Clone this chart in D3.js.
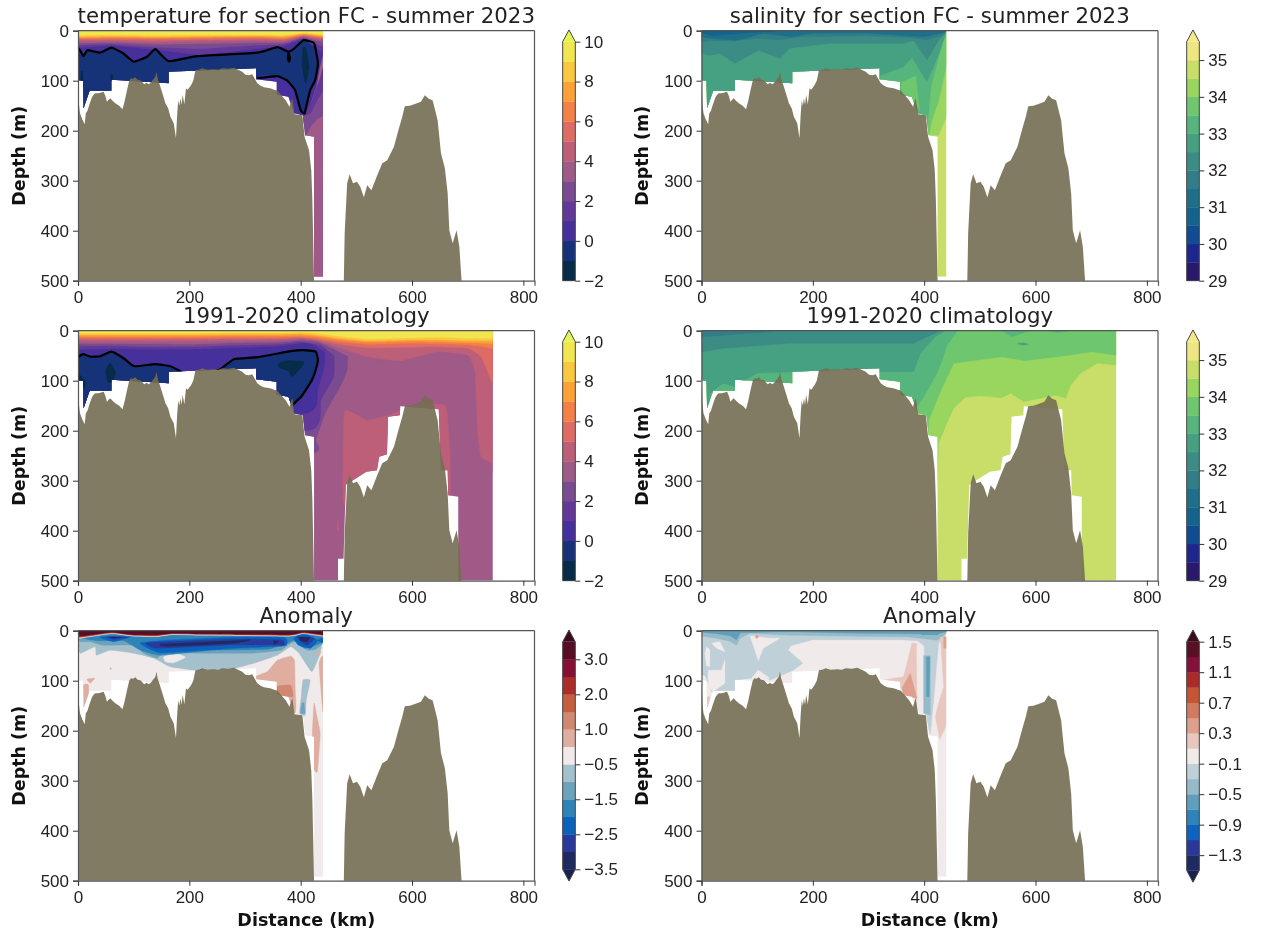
<!DOCTYPE html>
<html><head><meta charset="utf-8">
<script src="https://cdn.jsdelivr.net/npm/d3@7"></script>
<style>
html,body{margin:0;padding:0;background:#fff}
svg{display:block;font-family:"DejaVu Sans";filter:blur(0.45px)}
.tick text{font-size:17px;fill:#222}
</style></head><body>
<svg id="fig" width="1263" height="934"></svg>
<script>
// ---------- bathymetry (km, m) ----------
const shelf=[[0,99],[1,125],[2,150],[3.6,165],[8,178],[12,187],[14,165],[17,160],[20,149],[25,133],[28,128],[31,125],[36,125],[40,124],[46,122],[49,130],[52,142],[55,138],[58,135],[62,140],[67,145],[74,150],[80,157],[84,140],[88,119],[92,100],[95,95],[99,96],[103,93],[107,98],[112,99],[119,107],[123,104],[127,107],[131,104],[134,99],[139,92],[141,82],[143,95],[148,112],[153,130],[157,145],[162,155],[166,172],[172,185],[174,200],[176,215],[178,170],[180,139],[182,150],[184,135],[186,148],[188,128],[191,147],[194,115],[197,118],[203,109],[207,100],[211,79],[217,78],[223,75],[232,78],[244,77],[252,78],[259,75],[270,76],[280,74],[295,82],[301,88],[307,89],[313,87],[322,105],[328,110],[334,113],[345,115],[358,120],[366,130],[373,139],[380,152],[383,140],[385,135],[389,167],[403,169],[407,212],[415,239],[419,279],[421,339],[424,500]];
const ridge=[[477.5,500],[479,405],[483.5,305],[488,287],[494,305],[501,302],[507,312],[513.5,333],[519.5,309],[527,319],[537.5,289],[546.5,265],[555.5,259],[567.5,232],[576.5,195],[582.5,172],[587,151],[596,150],[604,147],[616,142],[623,129],[630,136],[637,139],[646,179],[652,245],[659,275],[664,325],[667,399],[673,425],[680,399],[685,432],[689,500]];

// ---------- data coverage outlines (km, m) ----------
const shelfEdge=[[0,0],[0,99],[9,100],[10,155],[21,120],[60,120],[60,98],[163,105],[163,82],[320,75],[320,97],[357,102],[357,128],[378,132],[388,165],[404,169],[408,209],[424,212]];
const summerEnd=[[424,492],[440,492],[440,0]];
const climEnd=[[424,500],[467,500],[467,456],[477,456],[481,308],[518,282],[537,279],[541,252],[555,247],[557,172],[578,169],[579,151],[648,157],[652,279],[664,279],[665,329],[683,332],[683,500],[745,500],[745,0]];

// ---------- colour levels ----------
const tempLevels=[-2,-1,0,1,2,3,4,5,6,7,8,9,10];
const tempColors=["#062c48","#163278","#46309b","#623898","#7a4b91","#a05a88","#bd5f78","#de6c64","#f58046","#fda037","#fac83e","#f0e650"];
const tempOver="#e4f552";
const salLevels=[29,29.5,30,30.5,31,31.5,32,32.5,33,33.5,34,34.5,35,35.5];
const salColors=["#29186b","#1c268c","#104c92","#12648c","#1e708a","#327d87","#3a8c85","#46a082","#56b47d","#6ec66e","#98d65f","#c8de69","#eee682"];
const salOver="#f5e88a";
const tAnomLevels=[-3.5,-3,-2.5,-2,-1.5,-1,-0.5,0.5,1,1.5,2,2.5,3,3.5];
const tAnomColors=["#1f2a60","#2a3a9c","#0b62bd","#2e83b7","#6ba3bd","#a4c0cc","#f0eaea","#dfaea0","#d08870","#c55e3e","#ac2e28","#850f35","#570e25"];
const sAnomLevels=[-1.5,-1.3,-1.1,-0.9,-0.7,-0.5,-0.3,-0.1,0.1,0.3,0.5,0.7,0.9,1.1,1.3,1.5];
const sAnomColors=["#1e2a62","#2b389a","#0d63bf","#2e83ba","#5f9fbb","#95bac8","#c0d0d8","#f0eaea","#e8c8be","#de9f8c","#d07a5f","#c45535","#ab2a2a","#85103a","#5a0f25"];
const anomOver="#3a0a1f", anomUnder="#1a2050";

// ---------- tick labels ----------
const xTicks=[0,200,400,600,800];
const yTicks=[0,100,200,300,400,500];
const tempTicks=[-2,0,2,4,6,8,10];
const salTicks=[29,30,31,32,33,34,35];
const tAnomTicks=[-3.5,-2.5,-1.5,-0.5,1,2,3];
const sAnomTicks=[-1.3,-0.9,-0.5,-0.1,0.3,0.7,1.1,1.5];

// ---------- temperature, summer 2023: stacked bands, deepest first ----------
const tsX=[0,60,140,220,320,370,405,440];
const tempSummerMarks=[
 ["p",0.5,[[0,0],[440,0],[440,45],[435,70],[428,110],[418,145],[408,170],[380,260],[0,260]]],
 ["p",3.5,[[440,150],[440,500],[424,500],[424,225],[407,212],[417,195],[430,178]]],
 ["p",2.5,[[440,118],[440,168],[430,176],[417,193],[407,212],[404,170],[417,165],[430,138]]],
 ["p",1.5,[[440,75],[440,118],[430,138],[417,165],[404,170],[410,165],[420,142],[428,115],[435,95]]],
 ["p",-0.5,[[0,34],[5,42],[10,51],[17,39],[40,44],[60,34],[81,45],[100,62],[124,52],[139,37],[163,61],[214,51],[322,44],[358,33],[378,42],[387,37],[405,19],[424,25],[431,65],[426,99],[417,119],[407,165],[400,159],[390,119],[375,99],[358,91],[322,95],[320,260],[0,260]]],
 ["p",-1.5,[[404,35],[409,35],[415,72],[409,105],[403,72]]],
 ["p",-1.5,[[6,82],[8,82],[9,100],[5,100]]],
 ["p",-1.5,[[59,88],[62,88],[62,100],[59,100]]],
 ["a",1.5,tsX,[34,30,38,48,36,31,17,45]],
 ["a",2.5,tsX,[29,27,33,36,29,27,15,32]],
 ["a",3.5,tsX,[25,24,27,26,24,24,13,23]],
 ["a",4.5,tsX,[21,21,23,21,20,21,12,19]],
 ["a",5.5,tsX,[18,18,19,18,17,18,10,16]],
 ["a",6.5,tsX,[16,15,16,15,14,16,9,14]],
 ["a",7.5,tsX,[14,13,14,13,12,14,7,12]],
 ["a",8.5,tsX,[12,11,12,11,10,11,6,10]],
 ["a",9.5,tsX,[9,8,9,8,8,9,4,8]]
];
const tempSummerContours=[
 [[0,34],[5,42],[10,51],[17,39],[40,44],[60,34],[81,45],[100,62],[124,52],[139,37],[163,61],[214,51],[322,44],[358,33],[378,42],[387,37],[405,19],[424,25],[431,65],[426,99],[417,119],[407,165],[400,159],[390,119],[375,99],[358,91],[322,95]],
 [[378,45],[381,55],[379,62],[377,55],[378,45]],
 [[10,151],[11,155]]
];

// ---------- temperature, 1991-2020 ----------
const tcX=[0,60,120,200,280,360,400,430,470,520,600,640,700,730,745];
const tempClimMarks=[
 ["p",4.5,[[479,162],[519,179],[560,168],[600,150],[660,150],[668,240],[669,322],[660,340],[520,340],[477,345]]],
 ["p",4.5,[[466,380],[468,380],[468,400],[466,400]]],
 ["p",2.5,[[0,0],[459,0],[484,72],[474,105],[444,165],[427,219],[418,245],[0,272]]],
 ["p",1.5,[[0,0],[436,0],[459,49],[459,92],[436,139],[415,199],[0,199]]],
 ["p",0.5,[[0,0],[418,0],[442,42],[442,72],[430,119],[409,165],[0,200]]],
 ["p",-0.5,[[0,52],[10,47],[22,52],[40,51],[60,42],[82,55],[101,71],[139,67],[166,71],[188,84],[188,200],[0,200]]],
 ["p",-0.5,[[244,81],[256,77],[280,57],[322,53],[382,41],[406,39],[427,42],[431,59],[426,82],[420,99],[403,129],[382,152],[320,152],[244,110]]],
 ["p",-1.5,[[360,66],[375,60],[405,62],[403,70],[385,92],[378,80],[362,74]]],
 ["p",-1.5,[[58,65],[67,82],[62,102],[54,102],[50,80]]],
 ["p",-1.5,[[3,89],[12,100],[12,115],[3,105]]],
 ["a",1.5,[0,60,120,200,280,360,400,418,442],[38,36,37,37,34,31,25,25,42]],
 ["a",2.5,[0,60,120,200,280,360,400,436,459],[31,30,32,32,29,27,22,29,49]],
 ["a",3.5,[0,60,120,200,280,360,400,430,459,484,540,580,640,700,745],[26,26,26,27,24,23,19,22,36,50,60,62,48,52,60]],
 ["a",4.5,[0,60,120,200,280,360,400,430,470,520,580,645,700,713,718,724,742,745],[21,21,21,21,20,19,16,20,34,52,60,42,49,82,205,252,265,285]],
 ["a",5.5,[0,60,120,200,280,360,400,430,470,520,600,640,700,724,742,745],[17,17,17,17,16,16,14,18,27,34,33,32,35,52,99,105]],
 ["a",6.5,tcX,[14,14,14,14,13,13,12,15,22,27,25,26,28,32,36]],
 ["a",7.5,tcX,[11,11,11,11,10,10,9,12,18,23,21,22,24,25,27]],
 ["a",8.5,tcX,[8,8,8,8,7,7,6,9,15,20,18,18,20,20,21]],
 ["a",9.5,tcX,[5,5,5,5,4,4,3,5,11,16,14,13,15,15,15]]
];
const tempClimContours=[
 [[0,52],[4,50],[10,47],[22,52],[40,51],[60,42],[82,55],[101,71],[139,67],[166,71],[188,84]],
 [[244,81],[256,77],[280,57],[322,53],[382,41],[406,39],[427,42],[431,59],[426,82],[420,99],[403,129],[382,152]]
];

// ---------- temperature anomaly ----------
const taX=[0,10,60,100,140,170,220,300,380,405,440];
const tAnomMarks=[
 ["p",-0.75,[[0,0],[440,0],[440,12],[435,45],[420,82],[397,45],[382,32],[358,49],[316,65],[280,75],[220,80],[166,72],[136,55],[100,45],[58,39],[33,49],[31,32],[4,45],[0,25]]],
 ["p",0,[[154,52],[175,45],[193,53],[172,64],[157,62]]],
 ["p",-1.25,[[0,12],[4,22],[22,22],[46,29],[100,29],[118,45],[142,55],[154,45],[220,45],[310,45],[364,39],[382,25],[394,22],[412,39],[427,37],[440,25],[440,0],[0,0]]],
 ["p",-1.75,[[10,15],[34,20],[82,20],[112,39],[148,49],[244,39],[340,37],[376,25],[388,19],[406,35],[427,29],[440,22],[440,0],[10,0]]],
 ["p",-2.25,[[40,13],[94,12],[64,22]]],
 ["p",-2.25,[[112,25],[160,19],[280,13],[370,13],[372,30],[280,35],[148,44]]],
 ["p",-2.25,[[388,15],[406,5],[430,19],[418,35],[396,29]]],
 ["p",-2.25,[[430,19],[440,15],[440,24]]],
 ["p",-2.75,[[52,12],[88,13],[64,17]]],
 ["p",-2.75,[[125,24],[280,17],[365,18],[368,29],[280,28],[142,35]]],
 ["p",-2.75,[[394,12],[424,15],[412,29],[400,22]]],
 ["p",-3.25,[[58,13],[76,13],[64,15]]],
 ["p",-3.25,[[150,27],[280,20],[310,18],[280,25],[160,31]]],
 ["p",-3.25,[[352,20],[361,22],[352,27]]],
 ["p",-3.25,[[398,13],[416,13],[412,22],[400,20]]],
 ["p",0.75,[[382,51],[389,60],[390,112],[389,165],[315,97],[340,82],[358,59]]],
 ["p",1.25,[[358,111],[382,109],[386,132],[359,129]]],
 ["p",0.75,[[10,109],[19,109],[19,152],[10,157]]],
 ["p",0.75,[[16,97],[30,95],[22,105]]],
 ["p",0.75,[[58,74],[61,75],[58,78]]],
 ["p",0.75,[[440,52],[433,65],[436,112],[440,162]]],
 ["p",0.75,[[427,45],[436,42],[433,49]]],
 ["p",0.75,[[424,145],[428,165],[435,205],[430,282],[422,272],[421,205]]],
 ["p",-0.75,[[404,99],[417,99],[410,139],[408,169],[398,165],[401,132]]],
 ["p",-1.25,[[402,145],[406,145],[408,165],[400,165]]],
 ["a",0,taX,[16,14,6,11,12,8,9,10,11,6,11]],
 ["a",0.75,taX,[15,13,5,10,11,7,8,9,10,5,10]],
 ["a",2.25,taX,[13,12,4,9,10,6,7,8,9,4,9]],
 ["a",3.25,taX,[10,10,3,8,8,5,6,7,8,3,8]]
];

// ---------- salinity, summer 2023 ----------
const salSummerMarks=[
 ["p",34.25,[[0,0],[441,0],[441,169],[426,209],[0,215]]],
 ["p",33.75,[[0,0],[441,0],[441,65],[426,139],[414,179],[408,209],[0,215]]],
 ["p",33.25,[[0,0],[438,0],[423,65],[412,112],[408,165],[404,215],[0,215]]],
 ["p",33.75,[[359,103],[385,90],[392,160],[378,135],[359,129]]],
 ["a",32.75,[0,318,321,363,378,405,425,438],[300,300,89,72,53,102,50,9]],
 ["a",32.25,[0,15,33,60,102,141,159,231,363,381,405,426,438],[45,49,45,65,39,55,35,25,25,19,58,19,5]],
 ["a",31.75,[0,15,60,100,140,180,300,380,405,430,438],[22,20,20,15,18,12,10,14,18,10,3]],
 ["a",31.25,[0,15,60,80,110,160,200,300,400,430,438],[12,15,19,15,5,12,5,5,12,5,2]],
 ["a",30.75,[0,20,40,60,100,130],[4,10,8,6,3,1]]
];

// ---------- salinity, 1991-2020 ----------
const salClimMarks=[
 ["a",34.25,[0,420,423,426,438,453,474,501,540,555,579,636,654,663,681,711,747],[300,300,312,225,192,155,133,130,134,125,142,129,135,109,85,65,69]],
 ["a",33.75,[0,405,408,429,453,540,580,660,700,747],[300,300,179,122,65,52,60,49,42,49]],
 ["a",33.25,[0,387,399,423,432,441,459],[300,152,132,85,59,29,1]],
 ["a",32.75,[0,15,39,60,99,159,381,393,420,435],[300,125,105,112,85,82,82,45,12,2]],
 ["a",32.25,[0,39,159,381,393,426],[42,35,25,25,18,2]],
 ["a",31.75,[0,30,60,110,130],[12,10,7,3,0]],
 ["p",33.25,[[540,0],[558,12],[580,3],[590,0]]],
 ["p",33.25,[[620,0],[640,4],[660,0]]],
 ["p",32.75,[[567,26],[578,24],[588,27],[578,29]]]
];

// ---------- salinity anomaly ----------
const sAnomMarks=[
 ["p",-0.2,[[0,0],[441,0],[438,8],[426,25],[423,60],[417,140],[411,207],[402,165],[400,30],[388,20],[357,18],[220,18],[200,18],[160,30],[156,39],[182,65],[165,79],[123,99],[102,79],[90,95],[60,99],[60,122],[18,122],[6,89],[0,89]]],
 ["p",0,[[9,32],[15,38],[15,72],[9,70],[6,46]]],
 ["p",0,[[18,25],[33,22],[42,42],[27,35]]],
 ["p",0,[[12,79],[36,79],[42,58],[42,105],[21,122],[12,112]]],
 ["p",0,[[87,10],[123,15],[141,15],[111,35],[102,60],[93,29]]],
 ["p",0,[[90,95],[102,79],[123,95]]],
 ["a",-0.4,[0,27,51,63,69,87,159,279,369,423,441],[11,15,21,29,15,5,9,11,12,19,5]],
 ["a",-0.6,[0,27,51,63,70,159,279,369,423,441],[3,6,10,18,4,2,5,6,7,2]],
 ["p",-0.6,[[395,8],[425,8],[425,3],[395,3]]],
 ["p",-0.4,[[399,50],[411,50],[411,168],[399,165]]],
 ["p",-0.6,[[404,52],[410,52],[409,132],[404,132]]],
 ["p",0.2,[[324,99],[363,92],[378,25],[386,25],[387,139],[360,115]]],
 ["p",0.4,[[360,115],[375,85],[387,135],[363,129]]],
 ["p",0.2,[[429,13],[442,12],[442,185],[428,217],[420,172],[426,145],[435,112],[431,45]]],
 ["p",0.4,[[435,12],[442,12],[441,35],[435,35]]],
 ["p",0.2,[[9,132],[15,132],[14,157],[9,157]]],
 ["p",0.4,[[98,8],[103,12],[100,15],[97,14]]]
];

// ---------- layout ----------
const W=456.5,H=250;
const panels=[
 {x:78,y:30.7,title:"temperature for section FC - summer 2023",levels:tempLevels,colors:tempColors,marks:tempSummerMarks,lines:tempSummerContours,end:summerEnd,base:3.5,smooth:true},
 {x:701.5,y:30.7,title:"salinity for section FC - summer 2023",levels:salLevels,colors:salColors,marks:salSummerMarks,lines:[],end:summerEnd,base:34.75},
 {x:78,y:330.7,title:"1991-2020 climatology",levels:tempLevels,colors:tempColors,marks:tempClimMarks,lines:tempClimContours,end:climEnd,base:3.5,smooth:true},
 {x:701.5,y:330.7,title:"1991-2020 climatology",levels:salLevels,colors:salColors,marks:salClimMarks,lines:[],end:climEnd,base:34.75},
 {x:78,y:630.7,title:"Anomaly",levels:tAnomLevels,colors:tAnomColors,marks:tAnomMarks,lines:[],end:summerEnd,base:0,xlabel:true,smooth:true},
 {x:701.5,y:630.7,title:"Anomaly",levels:sAnomLevels,colors:sAnomColors,marks:sAnomMarks,lines:[],end:summerEnd,base:0,xlabel:true}
];
const svg=d3.select("#fig");
const xs=d3.scaleLinear().domain([0,820]).range([0,W]);
const ys=d3.scaleLinear().domain([0,500]).range([0,H]);
const line=d3.line().x(d=>xs(d[0])).y(d=>ys(d[1]));
const closed=pts=>line(pts)+"Z";
const lineOpen=d3.line().x(d=>xs(d[0])).y(d=>ys(d[1])).curve(d3.curveCardinal.tension(0.6));
const lineClosed=d3.line().x(d=>xs(d[0])).y(d=>ys(d[1])).curve(d3.curveCardinalClosed.tension(0.6));
const topDown=(sx,sd,smooth)=>{
 const pts=sx.map((x,i)=>[x,sd[i]]);
 const body=(smooth?lineOpen:line)(pts).slice(1);
 return `M${xs(sx[0])},0L${body}L${xs(sx[sx.length-1])},0Z`;
};

panels.forEach((p,pi)=>{
 const g=svg.append("g").attr("transform",`translate(${p.x},${p.y})`);
 const color=d3.scaleThreshold().domain(p.levels.slice(1,-1)).range(p.colors);
 const cid="cov"+pi;
 g.append("clipPath").attr("id",cid).append("path").attr("d",closed([...shelfEdge,...p.end]));
 const data=g.append("g").attr("clip-path",`url(#${cid})`);
 data.append("rect").attr("width",W).attr("height",H).attr("fill",color(p.base));
 data.selectAll("path.band").data(p.marks).join("path").attr("class","band")
  .attr("d",m=>m[0]==="a"?topDown(m[2],m[3],p.smooth):(p.smooth?lineClosed(m[2]):closed(m[2])))
  .attr("fill",m=>color(m[1])).attr("stroke",m=>color(m[1])).attr("stroke-width",0.4);
 data.selectAll("path.ctr").data(p.lines).join("path").attr("class","ctr")
  .attr("d",l=>lineOpen(l)).attr("fill","none").attr("stroke","#000").attr("stroke-width",2.2).attr("stroke-linejoin","round");
 [shelf,ridge].forEach(b=>g.append("path").attr("d",d3.area().x(d=>xs(d[0])).y1(d=>ys(d[1])).y0(H)([[b[0][0],500],...b,[b[b.length-1][0],500]]))
  .attr("fill","#746d53").attr("fill-opacity",0.9));
 const ax=g.append("g").attr("transform",`translate(0,${H})`).call(d3.axisBottom(xs).tickValues(xTicks).tickFormat(d3.format("d")).tickSize(5).tickPadding(5));
 const ay=g.append("g").call(d3.axisLeft(ys).tickValues(yTicks).tickFormat(d3.format("d")).tickSize(5).tickPadding(4));
 [ax,ay].forEach(a=>{a.selectAll("line").attr("stroke","#333").attr("stroke-width",1);a.select(".domain").attr("stroke","#555").attr("stroke-width",1.2)});
 g.append("line").attr("x1",0).attr("x2",W).attr("y1",0).attr("y2",0).attr("stroke","#555").attr("stroke-width",1.2);
 g.append("line").attr("x1",W).attr("x2",W).attr("y1",0).attr("y2",H).attr("stroke","#555").attr("stroke-width",1.2);
 g.append("text").attr("x",W/2).attr("y",-8).attr("text-anchor","middle").attr("font-size",21.3).attr("fill","#222").text(p.title);
 g.append("text").attr("transform",`translate(-53.5,${H/2}) rotate(-90)`).attr("text-anchor","middle").attr("font-size",17.5).attr("font-weight","bold").attr("fill","#111").text("Depth (m)");
 if(p.xlabel) g.append("text").attr("x",W/2).attr("y",H+45.5).attr("text-anchor","middle").attr("font-size",17.5).attr("font-weight","bold").attr("fill","#111").text("Distance (km)");
});

// ---------- colour bars ----------
const bars=[
 {x:562.7,top:41.7,bot:280.7,levels:tempLevels,colors:tempColors,ticks:tempTicks,over:tempOver,fmt:d3.format("d"),uniform:false},
 {x:1186.7,top:41.7,bot:280.7,levels:salLevels,colors:salColors,ticks:salTicks,over:salOver,fmt:d3.format("d"),uniform:false},
 {x:562.7,top:341.7,bot:580.7,levels:tempLevels,colors:tempColors,ticks:tempTicks,over:tempOver,fmt:d3.format("d"),uniform:false},
 {x:1186.7,top:341.7,bot:580.7,levels:salLevels,colors:salColors,ticks:salTicks,over:salOver,fmt:d3.format("d"),uniform:false},
 {x:562.7,top:641.8,bot:869.3,levels:tAnomLevels,colors:tAnomColors,ticks:tAnomTicks,over:anomOver,under:anomUnder,fmt:d3.format(".1f"),uniform:true},
 {x:1186.7,top:641.7,bot:870.4,levels:sAnomLevels,colors:sAnomColors,ticks:sAnomTicks,over:anomOver,under:anomUnder,fmt:d3.format(".1f"),uniform:true}
];
bars.forEach(b=>{
 const g=svg.append("g").attr("transform",`translate(${b.x},0)`);
 const bw=12.6, tip=11.8;
 const n=b.levels.length;
 const sc=b.uniform
  ? d3.scaleLinear().domain(b.levels.map((_,i)=>i)).range(b.levels.map((_,i)=>b.bot+(b.top-b.bot)*i/(n-1)))
  : d3.scaleLinear().domain([b.levels[0],b.levels[n-1]]).range([b.bot,b.top]);
 const pos=v=>b.uniform?sc(b.levels.findIndex(l=>Math.abs(l-v)<1e-6)):sc(v);
 g.selectAll("rect").data(b.colors).join("rect").attr("x",0).attr("width",bw)
  .attr("y",(c,i)=>pos(b.levels[i+1])).attr("height",(c,i)=>pos(b.levels[i])-pos(b.levels[i+1])+0.3).attr("fill",(c)=>c);
 g.append("path").attr("d",`M0,${b.top}L${bw/2},${b.top-tip}L${bw},${b.top}Z`).attr("fill",b.over);
 if(b.under) g.append("path").attr("d",`M0,${b.bot}L${bw/2},${b.bot+tip}L${bw},${b.bot}Z`).attr("fill",b.under);
 const outline=b.under
  ? `M0,${b.top}L${bw/2},${b.top-tip}L${bw},${b.top}V${b.bot}L${bw/2},${b.bot+tip}L0,${b.bot}Z`
  : `M0,${b.top}L${bw/2},${b.top-tip}L${bw},${b.top}V${b.bot}H0Z`;
 g.append("path").attr("d",outline).attr("fill","none").attr("stroke","#444").attr("stroke-width",1);
 const ticks=g.append("g").attr("transform",`translate(${bw},0)`);
 const ts=d3.scaleIdentity();
 const axis=d3.axisRight(ts).tickValues(b.ticks.map(pos)).tickSize(5).tickPadding(4)
  .tickFormat((d,i)=>b.fmt(b.ticks[i]).replace("-","\u2212"));
 ticks.call(axis);
 ticks.select(".domain").remove();
 ticks.selectAll("line").attr("stroke","#333");
});
</script>
</body></html>
